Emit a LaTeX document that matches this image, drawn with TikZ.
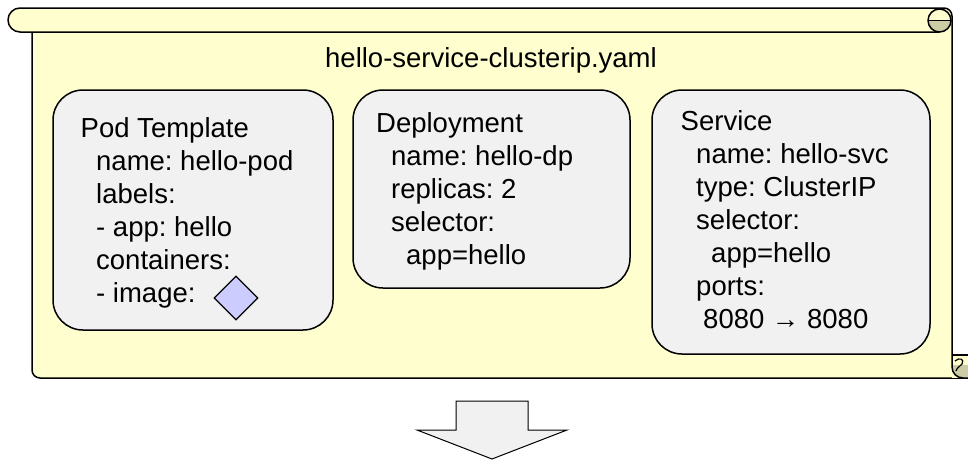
\documentclass[tikz,border=0pt]{standalone}
\usepackage{fontspec}
\setmainfont{Liberation Sans}
\usetikzlibrary{shapes.geometric}
\definecolor{scrollyellow}{RGB}{254,254,206}
\definecolor{curlshade}{RGB}{204,204,165}
\definecolor{boxgray}{RGB}{241,241,241}
\definecolor{imgblue}{RGB}{204,204,255}
\frenchspacing

\begin{document}
\begin{tikzpicture}[x=1pt,y=-1pt,
  outline/.style={draw=black,line width=1.5pt,line join=round},
  specbox/.style={outline,fill=boxgray,rounded corners=30pt,inner sep=0pt,rectangle},
  spec/.style={anchor=base west,inner sep=0pt,font=\fontsize{27.5}{33}\selectfont},
  title/.style={anchor=base,inner sep=0pt,font=\fontsize{27.5}{33}\selectfont},
  imagemark/.style={diamond,draw=black,line width=1.2pt,fill=imgblue,inner sep=0pt,minimum width=44pt,minimum height=44pt},
  bigarrow/.style={draw=black,line width=1pt,fill=boxgray,line join=miter},
]
\useasboundingbox (0,0) rectangle (968,464);
\clip (0,0) rectangle (968,464);

% scroll body and top roll
\fill[scrollyellow] (20,32) arc[start angle=90,end angle=270,radius=12] -- (944,8)
  arc[start angle=270,end angle=360,radius=8] -- (952,378) -- (40,378)
  arc[start angle=90,end angle=180,radius=8] -- (32,32) -- cycle;
\draw[outline] (939.5,32) -- (20,32) arc[start angle=90,end angle=270,radius=12] -- (944,8)
  arc[start angle=270,end angle=360,radius=8] -- (952,355);
\draw[outline] (32,32) -- (32,370) arc[start angle=180,end angle=90,radius=8] -- (975,378);

% top-right curl
\fill[scrollyellow] (939.5,20.5) circle[radius=11.5];
\fill[curlshade] (928,20.5) arc[start angle=180,end angle=0,radius=11.5] -- cycle;
\draw[outline] (939.5,20.5) circle[radius=11.5];
\draw[outline] (928,20.5) -- (951,20.5);

% bottom-right curl
\fill[scrollyellow] (952,355) rectangle (975,378);
\fill[curlshade] (952,365) -- (975,365) -- (975,378) -- (963,378)
  arc[start angle=90,end angle=180,radius=11] -- cycle;
\draw[outline] (952,355) -- (975,355);
\draw[outline] (952,355) -- (952,367) arc[start angle=180,end angle=90,radius=11] -- (975,378);
\draw[outline,line width=1.2pt] (955,361) .. controls (959,357) and (965,359) .. (962,364)
  .. controls (960,367) and (957,367) .. (956,371);

% file name
\node[title] (fname) at (491,67) {hello-service-clusterip.yaml};

% pod template
\node[specbox,minimum width=280pt,minimum height=240pt] (pod) at (193,210) {};
\node[spec] (pod1) at (80.5,137) {Pod Template};
\node[spec] (pod2) at (96,170) {name: hello-pod};
\node[spec] (pod3) at (96,203) {labels:};
\node[spec] (pod4) at (96,236) {- app: hello};
\node[spec] (pod5) at (96,269) {containers:};
\node[spec] (pod6) at (96,302) {- image:};
\node[imagemark] (img) at (236,298) {};

% deployment
\node[specbox,minimum width=277pt,minimum height=198pt] (dp) at (491.5,189) {};
\node[spec] (dp1) at (376,132) {Deployment};
\node[spec] (dp2) at (391,165) {name: hello-dp};
\node[spec] (dp3) at (391,198) {replicas: 2};
\node[spec] (dp4) at (391,231) {selector:};
\node[spec] (dp5) at (406,264) {app=hello};

% service
\node[specbox,minimum width=278pt,minimum height=264pt] (svc) at (791,222) {};
\node[spec] (svc1) at (680.5,130) {Service};
\node[spec] (svc2) at (696,163) {name: hello-svc};
\node[spec] (svc3) at (696,196) {type: ClusterIP};
\node[spec] (svc4) at (696,229) {selector:};
\node[spec] (svc5) at (711,262) {app=hello};
\node[spec] (svc6) at (696,295) {ports:};
\node[spec] (svc7) at (703,328) {8080 → 8080};

% block arrow below
\draw[bigarrow] (456,401) -- (528,401) -- (528,430) -- (567,430) -- (492,459)
  -- (417,430) -- (456,430) -- cycle;
\end{tikzpicture}
\end{document}
